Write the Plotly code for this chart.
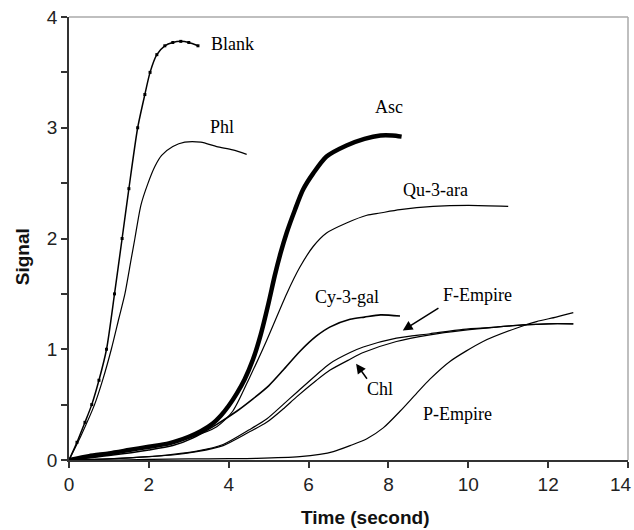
import plotly.graph_objects as go

blank_t = [0, 0.2, 0.4, 0.57, 0.75, 0.94, 1.14, 1.33, 1.5, 1.72, 1.9, 2.03, 2.2, 2.4, 2.6, 2.8, 3.0, 3.23]
blank_y = [0, 0.16, 0.34, 0.5, 0.72, 1.0, 1.5, 2.0, 2.45, 3.0, 3.3, 3.5, 3.66, 3.74, 3.77, 3.78, 3.77, 3.74]

phl_t = [0, 0.3, 0.64, 0.85, 1.06, 1.25, 1.4, 1.55, 1.65, 1.8, 1.98, 2.15, 2.32, 2.6, 2.9, 3.3, 3.7, 4.1, 4.45]
phl_y = [0, 0.22, 0.5, 0.73, 1.0, 1.28, 1.5, 1.8, 2.0, 2.3, 2.5, 2.65, 2.75, 2.83, 2.87, 2.87, 2.83, 2.8, 2.76]

asc_t = [0, 0.5, 1.0, 1.5, 2.0, 2.5, 3.0, 3.3, 3.6, 3.8, 4.0, 4.2, 4.4, 4.6, 4.8, 5.0, 5.15, 5.3, 5.45,
         5.66, 5.86, 6.12, 6.45, 6.95, 7.4, 7.8, 8.1, 8.33]
asc_y = [0, 0.035, 0.06, 0.09, 0.12, 0.15, 0.21, 0.26, 0.33, 0.4, 0.49, 0.6, 0.73, 0.9, 1.13, 1.42, 1.66, 1.87, 2.05,
         2.26, 2.44, 2.59, 2.74, 2.84, 2.9, 2.93, 2.93, 2.92]

qu_t = [0, 1, 2, 3, 3.7, 4.1, 4.53, 4.95, 5.45, 5.78, 6.12, 6.45, 6.95, 7.46, 7.79, 8.29, 9.12, 10.0, 11.0]
qu_y = [0, 0.06, 0.12, 0.2, 0.3, 0.44, 0.75, 1.08, 1.5, 1.74, 1.93, 2.05, 2.14, 2.21, 2.23, 2.26, 2.29, 2.3, 2.29]

cy_t = [0, 1, 2, 2.6, 3.11, 3.69, 4.2, 4.6, 5.0, 5.36, 5.78, 6.2, 6.53, 7.04, 7.4, 7.8, 8.29]
cy_y = [0, 0.04, 0.09, 0.13, 0.2, 0.32, 0.44, 0.55, 0.67, 0.81, 0.98, 1.12, 1.2, 1.27, 1.29, 1.31, 1.30]

emp_t = [0, 1, 2, 2.6, 3.2, 3.86, 4.5, 4.95, 5.36, 5.7, 6.2, 6.53, 7.04, 7.37, 8.2, 9.04, 9.87, 10.7, 11.37, 12.0, 12.63]
femp_y = [0, 0.01, 0.03, 0.05, 0.08, 0.14, 0.27, 0.37, 0.5, 0.61, 0.77, 0.87, 0.97, 1.02, 1.1, 1.14, 1.18, 1.2, 1.22, 1.23, 1.23]
chl_y = [0, 0.01, 0.03, 0.045, 0.075, 0.13, 0.25, 0.34, 0.46, 0.57, 0.72, 0.81, 0.91, 0.97, 1.07, 1.13, 1.17, 1.2, 1.22, 1.23, 1.23]

pemp_t = [0, 1, 2, 3, 4, 4.7, 5.78, 6.28, 6.62, 7.04, 7.45, 7.87, 8.29, 8.7, 9.04, 9.54, 10.37, 11.2, 11.71, 12.2, 12.63]
pemp_y = [0, 0.0, 0.005, 0.01, 0.012, 0.015, 0.03, 0.05, 0.075, 0.13, 0.19, 0.29, 0.44, 0.6, 0.73, 0.89, 1.07, 1.19, 1.25, 1.29, 1.33]

x_tickvals = [0, 2, 4, 6, 8, 10, 12, 14]
x_ticktext = ["0", "2", "4", "6", "8", "10", "12", ""]
last_x_label = "14"

labels = ["Blank", "Phl", "Asc", "Qu-3-ara", "Cy-3-gal", "F-Empire", "Chl", "P-Empire"]
label_t = [4.1, 3.82, 8.01, 9.17, 6.96, 10.22, 7.79, 9.72]
label_y = [3.76, 3.01, 3.19, 2.44, 1.47, 1.49, 0.64, 0.415]

SM = 0.7
fig = go.Figure()
fig.add_trace(go.Scatter(x=blank_t, y=blank_y, mode="lines+markers",
                         line=dict(color="black", width=1.5, shape="spline", smoothing=SM),
                         marker=dict(color="black", size=3, symbol="square")))
fig.add_trace(go.Scatter(x=phl_t, y=phl_y, mode="lines", line=dict(color="black", width=1.2, shape="spline", smoothing=SM)))
fig.add_trace(go.Scatter(x=asc_t, y=asc_y, mode="lines", line=dict(color="black", width=4.5, shape="spline", smoothing=SM)))
fig.add_trace(go.Scatter(x=qu_t, y=qu_y, mode="lines", line=dict(color="black", width=1.2, shape="spline", smoothing=SM)))
fig.add_trace(go.Scatter(x=cy_t, y=cy_y, mode="lines", line=dict(color="black", width=1.6, shape="spline", smoothing=SM)))
fig.add_trace(go.Scatter(x=emp_t, y=femp_y, mode="lines", line=dict(color="black", width=1.2, shape="spline", smoothing=SM)))
fig.add_trace(go.Scatter(x=emp_t, y=chl_y, mode="lines", line=dict(color="black", width=1.2, shape="spline", smoothing=SM)))
fig.add_trace(go.Scatter(x=pemp_t, y=pemp_y, mode="lines", line=dict(color="black", width=1.2, shape="spline", smoothing=SM)))

for txt, tx, ty in zip(labels, label_t, label_y):
    fig.add_annotation(x=tx, y=ty, text=txt, showarrow=False,
                       font=dict(family="Liberation Serif", size=18, color="black"))

# arrows for F-Empire and Chl
fig.add_annotation(x=8.36, y=1.17, ax=9.29, ay=1.38, axref="x", ayref="y", xref="x", yref="y",
                   text="", showarrow=True, arrowhead=2, arrowsize=1.3, arrowwidth=1.5, arrowcolor="black")
fig.add_annotation(x=7.19, y=0.87, ax=7.49, ay=0.72, axref="x", ayref="y", xref="x", yref="y",
                   text="", showarrow=True, arrowhead=2, arrowsize=1.3, arrowwidth=1.5, arrowcolor="black")

# last x tick label, kept inside the page like the original
fig.add_annotation(xref="paper", yref="paper", x=1.0, y=-0.0542, text=last_x_label, showarrow=False,
                   xanchor="right", yanchor="middle", xshift=6,
                   font=dict(size=19, family="Liberation Sans", color="#222"))

# axis titles (placed as in the original)
fig.add_annotation(xref="paper", yref="paper", x=0.529, y=-0.1287, text="<b>Time (second)</b>", showarrow=False,
                   xanchor="center", yanchor="middle", font=dict(size=19, family="Liberation Sans", color="#111"))
fig.add_annotation(xref="paper", yref="paper", x=-0.0838, y=0.458, text="<b>Signal</b>", showarrow=False,
                   textangle=-90, xanchor="center", yanchor="middle", font=dict(size=19, family="Liberation Sans", color="#111"))

# light gray frame on top and right
fig.add_shape(type="line", xref="paper", yref="paper", x0=0, x1=1, y0=1, y1=1, line=dict(color="#aaaaaa", width=1.5))
fig.add_shape(type="line", xref="paper", yref="paper", x0=1, x1=1, y0=0, y1=1, line=dict(color="#aaaaaa", width=1.5))

fig.update_layout(
    width=634, height=530,
    margin=dict(l=69, r=6, t=17, b=70),
    plot_bgcolor="white", paper_bgcolor="white",
    showlegend=False,
    font=dict(family="Liberation Sans", color="#222222"),
)
fig.update_xaxes(range=[0, 14], tickvals=x_tickvals, ticktext=x_ticktext, ticks="outside", ticklen=6,
                 tickwidth=1.5, tickcolor="#333",
                 showline=True, linecolor="#333", linewidth=1.5, showgrid=False, zeroline=False, automargin=False,
                 ticklabeloverflow="allow",
                 tickfont=dict(size=19, family="Liberation Sans", color="#222"))
fig.update_yaxes(range=[0, 4], dtick=1, tick0=0, ticks="outside", ticklen=6, tickwidth=1.5, tickcolor="#333",
                 minor=dict(dtick=0.5, ticks="outside", ticklen=6, tickwidth=1.5, tickcolor="#333"),
                 showline=True, linecolor="#333", linewidth=1.5, showgrid=False, zeroline=False, automargin=False,
                 ticklabeloverflow="allow",
                 tickfont=dict(size=19, family="Liberation Sans", color="#222"))

fig.write_html("out.html", config={"displayModeBar": False},
               post_script="document.body.style.margin='0';document.body.style.overflow='hidden';")
